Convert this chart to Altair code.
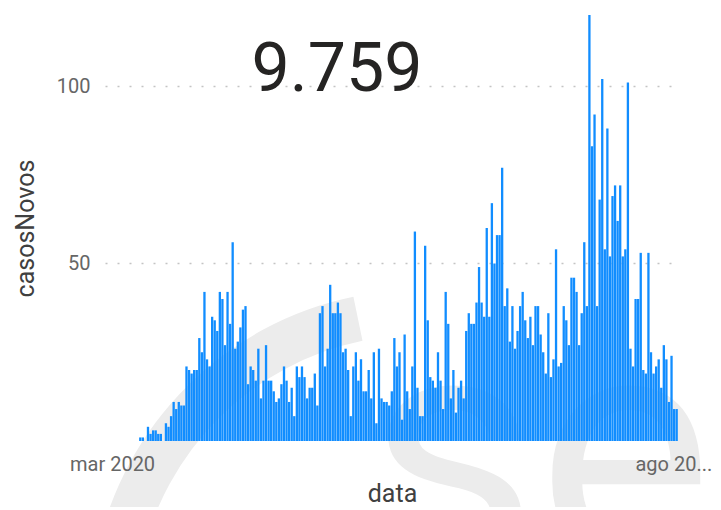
import altair as alt
import pandas as pd

# Daily new cases (casosNovos), left to right
cases = [
    1, 1, 0, 4, 2, 3, 3, 2, 2, 0,
    5, 4, 7, 11, 9, 11, 10, 10, 21, 20,
    19, 20, 20, 29, 25, 42, 23, 21, 35, 34,
    31, 42, 40, 27, 42, 33, 56, 26, 28, 32,
    37, 38, 16, 21, 20, 17, 26, 12, 17, 27,
    17, 17, 14, 11, 12, 16, 21, 17, 11, 15,
    7, 21, 18, 21, 18, 12,
    15, 15, 19, 10, 36, 38, 21, 26, 44, 36,
    36, 39, 36, 25, 26, 20, 7, 21, 25, 17,
    23, 14, 14, 20, 12, 25, 5, 26, 12, 11,
    11, 10, 14, 29, 21, 25, 6, 30, 14, 9,
    21, 59, 15, 7, 7, 55, 34, 18, 17, 15,
    25, 17, 9, 42, 33, 12, 20, 8, 15, 17,
    12, 31, 36, 33, 33, 39, 49, 39, 35, 60,
    35, 67, 50,
    58, 58, 77, 38, 43, 28, 38, 26, 31, 38,
    42, 34, 29, 35, 27, 38, 38, 30, 25, 19,
    36, 18, 23, 54, 21, 22, 38, 34, 27, 46,
    46, 42, 27, 36, 56, 38, 120, 83, 92, 38,
    68, 102, 54, 88, 52, 69, 72, 62, 72, 52,
    54, 101, 26, 21, 40, 40, 53, 20, 19, 53,
    25, 19, 21, 23, 15, 27, 23, 11, 24, 9,
    9,
]
y_ticks = [50, 100]
x_tick_labels = ["mar 2020", "ago 20..."]
total_label = "9.759"
y_title = "casosNovos"
x_title = "data"
watermark_text = "ser"

n = len(cases)
df = pd.DataFrame({"i": list(range(n)), "casosNovos": cases})

W, H = 575, 426
FONT = "Roboto"
x_scale = alt.Scale(domain=[-13.25, n + 0.8], nice=False, zero=False)
y_scale = alt.Scale(domain=[0, 120], nice=False)

label_expr = f"datum.value < 0 ? '{x_tick_labels[0]}' : '{x_tick_labels[1]}'"

# faint background logo
ring = alt.Chart(pd.DataFrame({"k": [0]})).mark_arc(
    color="#ececec", radius=330, radius2=285, theta=4.92, theta2=6.08
).encode(x=alt.value(315), y=alt.value(605))

wm = alt.Chart(pd.DataFrame({"t": [watermark_text]})).mark_text(
    font=FONT, fontSize=330, color="#ececec", align="left", baseline="alphabetic"
).encode(x=alt.value(262), y=alt.value(548), text="t:N")

bars = alt.Chart(df).transform_calculate(
    i0="datum.i + 0.05", i1="datum.i + 0.95"
).mark_bar(color="#118DFF").encode(
    x=alt.X(
        "i0:Q", scale=x_scale,
        axis=alt.Axis(
            values=[-10.5, n - 1.8], labelExpr=label_expr, title=x_title,
            grid=False, ticks=False, domain=False, labelFlush=False, zindex=1,
            labelFont=FONT, labelFontSize=20, labelColor="#666666", labelPadding=13,
            titleFont=FONT, titleFontSize=25, titleFontWeight="normal", titleColor="#404040",
            titleX=287, titleY=52, titleBaseline="middle",
        ),
    ),
    x2="i1:Q",
    y=alt.Y(
        "casosNovos:Q", scale=y_scale,
        axis=alt.Axis(
            values=y_ticks, title=y_title, grid=True, gridDash=[2, 10], gridColor="#c4c4c4",
            gridWidth=1.5, ticks=False, domain=False, zindex=0,
            labelFont=FONT, labelFontSize=20, labelColor="#666666", labelPadding=15,
            titleFont=FONT, titleFontSize=25, titleFontWeight="normal", titleColor="#404040",
            titleX=-80, titleY=H / 2, titleBaseline="middle", titleAngle=270,
        ),
    ),
    y2=alt.datum(0),
)

card = alt.Chart(pd.DataFrame({"t": [total_label]})).mark_text(
    font=FONT, fontSize=68, color="#252423", align="center", baseline="middle"
).encode(x=alt.value(232), y=alt.value(56), text="t:N")

chart = alt.layer(ring, wm, bars, card).properties(
    width=W, height=H,
    background="white",
    autosize=alt.AutoSizeParams(type="none"),
    padding={"left": 97, "top": 7, "right": 33, "bottom": 66},
).configure_view(strokeWidth=0)

chart.save("out.html", embed_options={"renderer": "svg", "actions": False})
